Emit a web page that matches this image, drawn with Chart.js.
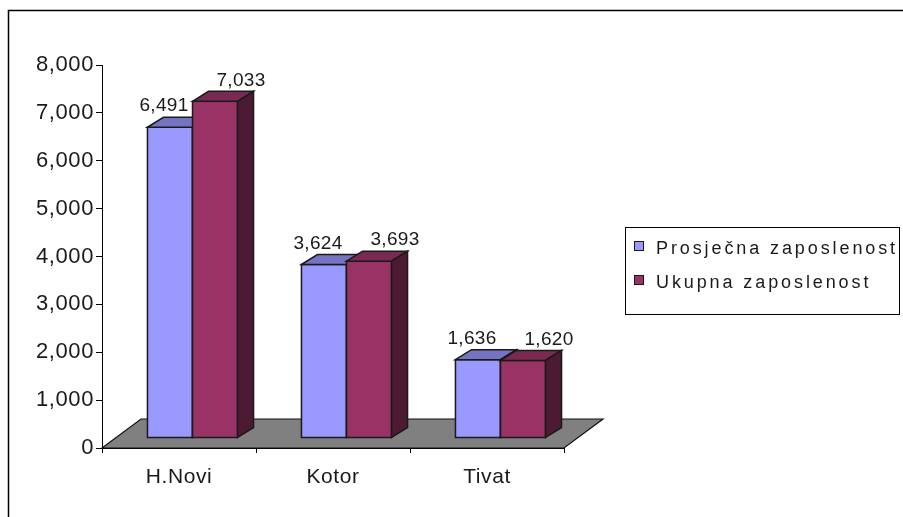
<!DOCTYPE html>
<html><head><meta charset="utf-8">
<script src="https://cdn.jsdelivr.net/npm/chart.js@4.4.1/dist/chart.umd.min.js"></script>
<style>html,body{margin:0;padding:0;background:#fff;overflow:hidden}</style>
</head><body>
<canvas id="c" width="903" height="517"></canvas>
<script>
// ---- data ----
const categories = ['H.Novi', 'Kotor', 'Tivat'];
const prosjecnaZaposlenost = [6491, 3624, 1636];
const ukupnaZaposlenost = [7033, 3693, 1620];
const seriesNames = ['Prosječna zaposlenost', 'Ukupna zaposlenost'];
const yTickValues = [0, 1000, 2000, 3000, 4000, 5000, 6000, 7000, 8000];

// ---- styles ----
const FRONT = ['#9999FF', '#993366'];
const TOP = ['#7474C2', '#7A2952'];
const SIDE = ['#5A5A99', '#4C1A33'];
const FONT = 'Liberation Sans, Arial, sans-serif';
const fmt = v => String(v).replace(/\B(?=(\d{3})+(?!\d))/g, ',');

const threeD = {
  id: 'threeD',
  beforeDraw(chart) {
    const ctx = chart.ctx;
    ctx.save();
    ctx.fillStyle = '#fff';
    ctx.fillRect(0, 0, chart.width, chart.height);
    ctx.strokeStyle = '#000';
    ctx.lineWidth = 1.5;
    ctx.strokeRect(8.5, 10.5, chart.width + 20, chart.height + 20);
    ctx.restore();
    ctx.letterSpacing = '0.6px';
  },
  beforeDatasetsDraw(chart, args, opts) {
    const ctx = chart.ctx;
    const xs = chart.scales.x, ys = chart.scales.y;
    const y0 = ys.getPixelForValue(0);
    const FD = opts.floorDepth, BS = opts.barShift, BD = opts.barDepth;
    ctx.save();
    ctx.letterSpacing = '0px';
    // floor
    ctx.beginPath();
    ctx.moveTo(xs.left, y0);
    ctx.lineTo(xs.left + FD[0], y0 + FD[1]);
    ctx.lineTo(xs.right + FD[0], y0 + FD[1]);
    ctx.lineTo(xs.right, y0);
    ctx.closePath();
    ctx.fillStyle = '#808080';
    ctx.fill();
    ctx.strokeStyle = '#111';
    ctx.lineWidth = 1.2;
    ctx.stroke();

    ctx.lineJoin = 'miter';
    ctx.lineWidth = 1.5;
    ctx.strokeStyle = '#1a1a1a';
    const metas = chart.data.datasets.map((d, i) => chart.getDatasetMeta(i));
    for (let i = 0; i < categories.length; i++) {
      metas.forEach((meta, di) => {
        const el = meta.data[i];
        const w = el.width;
        const x0 = el.x - w / 2 + BS[0], x1 = x0 + w;
        const yt = el.y + BS[1], yb = el.base + BS[1];
        // front
        ctx.fillStyle = FRONT[di];
        ctx.fillRect(x0, yt, w, yb - yt);
        ctx.strokeRect(x0, yt, w, yb - yt);
        // top
        ctx.beginPath();
        ctx.moveTo(x0, yt); ctx.lineTo(x0 + BD[0], yt + BD[1]);
        ctx.lineTo(x1 + BD[0], yt + BD[1]); ctx.lineTo(x1, yt); ctx.closePath();
        ctx.fillStyle = TOP[di]; ctx.fill(); ctx.stroke();
        // side
        ctx.beginPath();
        ctx.moveTo(x1, yt); ctx.lineTo(x1 + BD[0], yt + BD[1]);
        ctx.lineTo(x1 + BD[0], yb + BD[1]); ctx.lineTo(x1, yb); ctx.closePath();
        ctx.fillStyle = SIDE[di]; ctx.fill(); ctx.stroke();
      });
    }
    // value labels
    ctx.letterSpacing = '0.3px';
    ctx.font = '19px ' + FONT;
    ctx.fillStyle = '#1a1a1a';
    ctx.textAlign = 'center';
    ctx.textBaseline = 'middle';
    metas.forEach((meta, di) => {
      const vals = chart.data.datasets[di].data;
      meta.data.forEach((el, i) => {
        const cx = el.x + BS[0] + opts.labelShift[di];
        const cy = el.y + BS[1] - 21;
        ctx.fillText(fmt(vals[i]), cx, cy);
      });
    });
    ctx.restore();
    return false;
  },
  afterDraw(chart, args, opts) {
    const ctx = chart.ctx;
    const L = opts.legend;
    ctx.save();
    ctx.strokeStyle = '#000';
    ctx.lineWidth = 1;
    ctx.fillStyle = '#fff';
    ctx.fillRect(L.x, L.y, L.w, L.h);
    ctx.strokeRect(L.x + 0.5, L.y + 0.5, L.w, L.h);
    ctx.font = '18px ' + FONT;
    ctx.letterSpacing = '2.9px';
    ctx.textAlign = 'left';
    ctx.textBaseline = 'alphabetic';
    chart.data.datasets.forEach((ds, di) => {
      const base = L.y + L.firstBaseline + di * L.lineGap;
      ctx.fillStyle = ds.backgroundColor;
      ctx.fillRect(L.x + 9, base - 13, L.box, L.box);
      ctx.strokeStyle = '#1a1a1a';
      ctx.strokeRect(L.x + 9.5, base - 12.5, L.box, L.box);
      ctx.fillStyle = '#1a1a1a';
      ctx.fillText(ds.label, L.x + 31, base);
    });
    ctx.restore();
  }
};

new Chart(document.getElementById('c'), {
  type: 'bar',
  data: {
    labels: categories,
    datasets: [
      { label: seriesNames[0], data: prosjecnaZaposlenost, backgroundColor: FRONT[0] },
      { label: seriesNames[1], data: ukupnaZaposlenost, backgroundColor: FRONT[1] }
    ]
  },
  plugins: [threeD],
  options: {
    responsive: false,
    animation: false,
    devicePixelRatio: 1,
    layout: { padding: { left: 0, top: 65, right: 339, bottom: 0 } },
    datasets: { bar: { categoryPercentage: 0.585, barPercentage: 1.0 } },
    plugins: {
      legend: { display: false },
      tooltip: { enabled: false },
      threeD: {
        floorDepth: [39, -29],
        barShift: [13.5, -10],
        barDepth: [16, -10],
        labelShift: [-6, 26],
        legend: { x: 625, y: 227, w: 274, h: 87, firstBaseline: 27, lineGap: 34, box: 9 }
      }
    },
    scales: {
      x: {
        grid: { offset: true, drawOnChartArea: false, tickLength: 5, color: '#000' },
        border: { color: '#000', width: 1 },
        ticks: { font: { family: FONT, size: 21 }, color: '#1a1a1a', padding: 12, maxRotation: 0 },
        afterFit: s => { s.height = 69; }
      },
      y: {
        min: 0, max: 8000,
        afterBuildTicks: s => { s.ticks = yTickValues.map(v => ({ value: v })); },
        grid: { drawOnChartArea: false, tickLength: 6, color: '#000' },
        border: { color: '#000', width: 1 },
        ticks: { font: { family: FONT, size: 22 }, color: '#1a1a1a', padding: 2, callback: v => fmt(v) },
        afterFit: s => { s.width = 102; }
      }
    }
  }
});
</script>
</body></html>
